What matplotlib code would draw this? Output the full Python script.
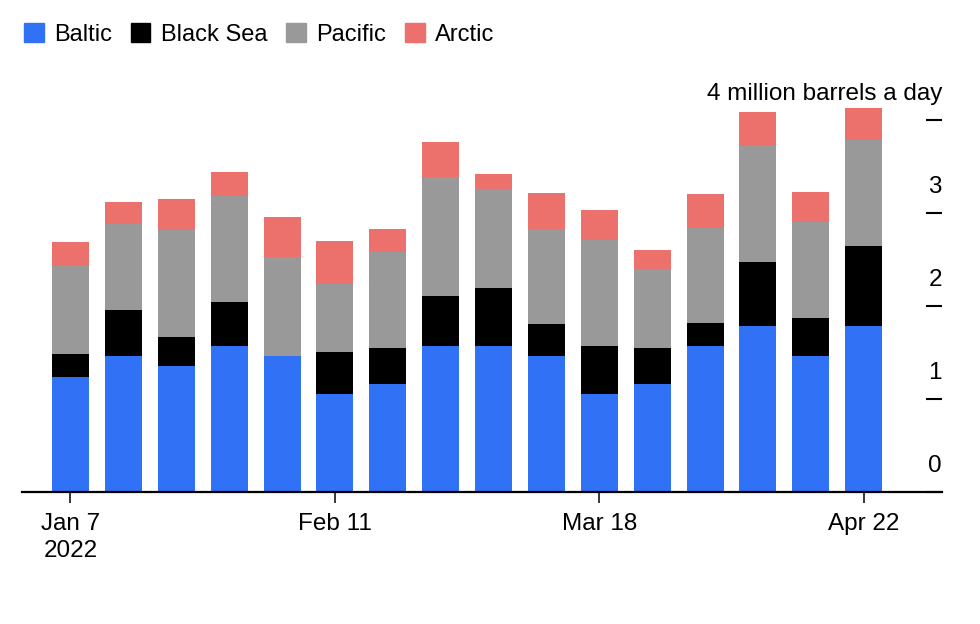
import numpy as np
import matplotlib
matplotlib.use("Agg")
import matplotlib.pyplot as plt
from matplotlib.patches import Patch
from matplotlib.transforms import blended_transform_factory

plt.rcParams['font.family'] = ['Liberation Sans', 'DejaVu Sans']

# weekly data, million barrels a day
weeks = ['Jan 7', 'Jan 14', 'Jan 21', 'Jan 28', 'Feb 4', 'Feb 11', 'Feb 18', 'Feb 25',
         'Mar 4', 'Mar 11', 'Mar 18', 'Mar 25', 'Apr 1', 'Apr 8', 'Apr 15', 'Apr 22']
baltic = [1.24, 1.46, 1.35, 1.57, 1.46, 1.05, 1.16, 1.57, 1.57, 1.46, 1.05, 1.16, 1.57, 1.78, 1.46, 1.78]
black_sea = [0.24, 0.49, 0.32, 0.47, 0.0, 0.45, 0.39, 0.54, 0.62, 0.34, 0.52, 0.39, 0.24, 0.69, 0.41, 0.86]
pacific = [0.95, 0.93, 1.14, 1.14, 1.06, 0.73, 1.03, 1.27, 1.06, 1.03, 1.14, 0.84, 1.03, 1.25, 1.03, 1.14]
arctic = [0.25, 0.23, 0.34, 0.26, 0.43, 0.47, 0.25, 0.38, 0.17, 0.38, 0.32, 0.21, 0.36, 0.36, 0.32, 0.34]

series = [('Baltic', baltic, '#3171F6'),
          ('Black Sea', black_sea, '#000000'),
          ('Pacific', pacific, '#999999'),
          ('Arctic', arctic, '#EC706B')]

tick_idx = [0, 5, 10, 15]
tick_labels = ['Jan 7\n2022', 'Feb 11', 'Mar 18', 'Apr 22']
y_ticks = [0, 1, 2, 3, 4]
y_labels = ['0', '1', '2', '3', '4 million barrels a day']

fig = plt.figure(figsize=(9.8, 6.24), dpi=100)
ax = fig.add_axes([22 / 980, 1 - 492 / 624, 920 / 980, 410 / 624])

x = np.arange(len(weeks))
bottom = np.zeros(len(weeks))
for name, vals, col in series:
    ax.bar(x, vals, bottom=bottom, width=0.7, color=col, linewidth=0, label=name)
    bottom += np.array(vals)

ax.set_xlim(-0.917, 16.48)
ax.set_ylim(0, 410 / 93.1)

for s in ['top', 'left', 'right']:
    ax.spines[s].set_visible(False)
ax.spines['bottom'].set_linewidth(1.6)

ax.set_xticks(tick_idx)
ax.set_xticklabels(tick_labels, fontsize=17.5, linespacing=1.3)
ax.tick_params(axis='x', length=8, width=1.1, pad=7)

ax.yaxis.tick_right()
ax.set_yticks(y_ticks)
ax.tick_params(axis='y', direction='in', length=11.5, width=1.5, labelright=False)

trans = blended_transform_factory(ax.transAxes, ax.transData)
for v, lab in zip(y_ticks, y_labels):
    ax.annotate(lab, xy=(1.0, v), xycoords=trans, xytext=(0, 18.5),
                textcoords='offset points', ha='right', va='center', fontsize=17.5)

handles = [Patch(color=col, label=name) for name, vals, col in series]
fig.legend(handles=handles, loc='upper left', bbox_to_anchor=(0.015, 0.978), ncol=4,
           frameon=False, fontsize=17, handlelength=0.82, handleheight=0.82,
           handletextpad=0.45, columnspacing=0.8, borderaxespad=0)

fig.savefig('out.png', dpi=100)
